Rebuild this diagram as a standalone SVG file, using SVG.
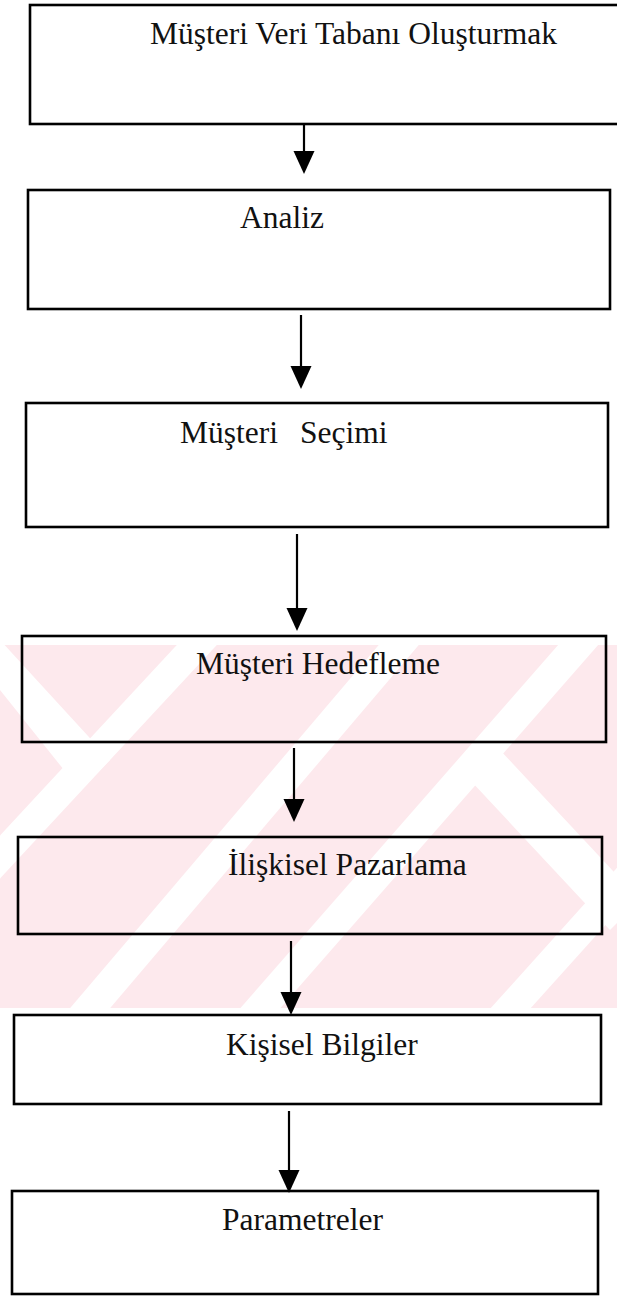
<svg xmlns="http://www.w3.org/2000/svg" width="617" height="1297" viewBox="0 0 617 1297">
  <style>
    .box { fill: none; stroke: #000; stroke-width: 2.6; }
    .lbl { font-family: "Liberation Serif", "Times New Roman", serif; font-size: 31.5px; fill: #111; }
    .line { stroke: #000; stroke-width: 2.2; fill: none; }
    .head { fill: #000; }
    .band { fill: #fff; }
  </style>
  <defs>
    <clipPath id="wmClip">
      <rect x="0" y="645" width="617" height="363"/>
    </clipPath>
  </defs>

  <rect x="0" y="0" width="617" height="1297" fill="#fff"/>

  <!-- faint background watermark -->
  <g id="watermark" clip-path="url(#wmClip)">
    <rect x="0" y="645" width="617" height="363" fill="#fde9ed"/>
    <polygon class="band" points="-40,640 0,640 110,760 80,790"/>
    <polygon class="band" points="-60,900 200,620 240,620 -20,900"/>
    <polygon class="band" points="60,1020 400,620 440,620 100,1020"/>
    <polygon class="band" points="230,1020 580,620 620,620 270,1020"/>
    <polygon class="band" points="470,780 500,750 640,900 610,930"/>
    <polygon class="band" points="480,1020 660,820 700,820 520,1020"/>
  </g>

  <!-- process steps -->
  <g id="n1">
    <rect class="box" x="30" y="5" width="600" height="119"/>
    <text class="lbl" x="150" y="44">Müşteri Veri Tabanı Oluşturmak</text>
  </g>
  <g id="n2">
    <rect class="box" x="28" y="190" width="582" height="119"/>
    <text class="lbl" x="240" y="228">Analiz</text>
  </g>
  <g id="n3">
    <rect class="box" x="26" y="403" width="582" height="124"/>
    <text class="lbl" x="180" y="443">Müşteri</text>
    <text class="lbl" x="300" y="443">Seçimi</text>
  </g>
  <g id="n4">
    <rect class="box" x="22" y="636" width="584" height="106"/>
    <text class="lbl" x="196" y="674">Müşteri Hedefleme</text>
  </g>
  <g id="n5">
    <rect class="box" x="18" y="837" width="584" height="97"/>
    <text class="lbl" x="228" y="875">İlişkisel Pazarlama</text>
  </g>
  <g id="n6">
    <rect class="box" x="14" y="1015" width="587" height="89"/>
    <text class="lbl" x="226" y="1055">Kişisel Bilgiler</text>
  </g>
  <g id="n7">
    <rect class="box" x="12" y="1191" width="586" height="103"/>
    <text class="lbl" x="222" y="1230">Parametreler</text>
  </g>

  <!-- connectors -->
  <g id="edges">
    <line class="line" x1="304" y1="124" x2="304" y2="155"/>
    <polygon class="head" points="293.5,151 314.5,151 304,174"/>
    <line class="line" x1="301" y1="315" x2="301" y2="370"/>
    <polygon class="head" points="290.5,366 311.5,366 301,389"/>
    <line class="line" x1="297" y1="534" x2="297" y2="612"/>
    <polygon class="head" points="286.5,608 307.5,608 297,631"/>
    <line class="line" x1="294" y1="748" x2="294" y2="803"/>
    <polygon class="head" points="283.5,799 304.5,799 294,822"/>
    <line class="line" x1="291" y1="941" x2="291" y2="996"/>
    <polygon class="head" points="280.5,992 301.5,992 291,1015"/>
    <line class="line" x1="289" y1="1111" x2="289" y2="1174"/>
    <polygon class="head" points="278.5,1170 299.5,1170 289,1193"/>
  </g>
</svg>
